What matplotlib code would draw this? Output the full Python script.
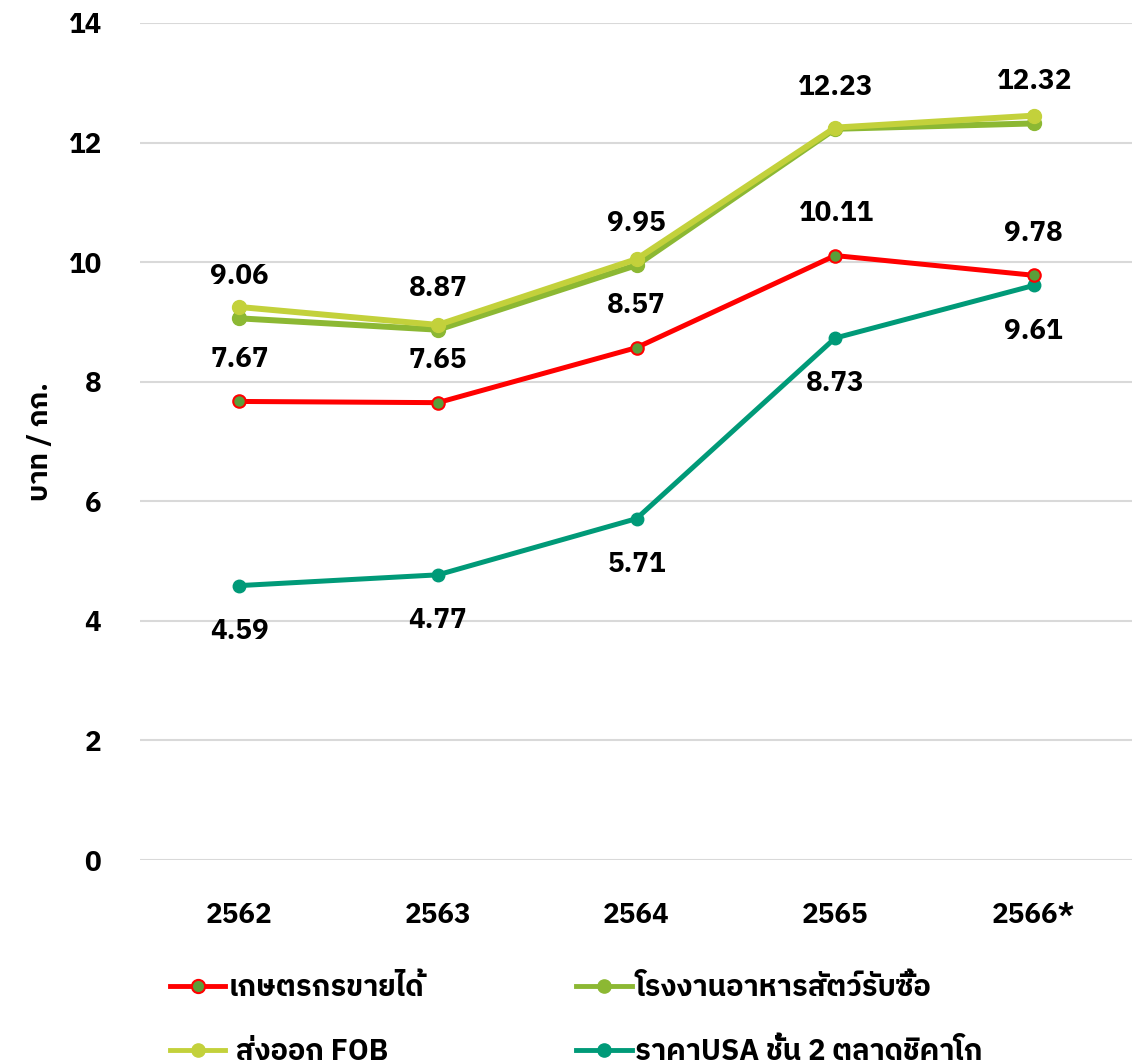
import matplotlib
matplotlib.use("Agg")
import matplotlib.pyplot as plt
from matplotlib.lines import Line2D

plt.rcParams['font.family'] = ['IBM Plex Sans Thai', 'DejaVu Sans']
plt.rcParams['font.weight'] = 'bold'

years = ["2562", "2563", "2564", "2565", "2566*"]
farmer = [7.67, 7.65, 8.57, 10.11, 9.78]
feedmill = [9.06, 8.87, 9.95, 12.23, 12.32]
fob = [9.25, 8.95, 10.05, 12.25, 12.45]
usa = [4.59, 4.77, 5.71, 8.73, 9.61]

names = ["เกษตรกรขายได้", "โรงงานอาหารสัตว์รับซื้อ", " ส่งออก FOB", "ราคาUSA ชั้น 2 ตลาดชิคาโก"]

fig = plt.figure(figsize=(11.32, 10.64), dpi=100)
ax = fig.add_axes([0.1237, 0.1917, 0.8772, 0.7867])

x = range(len(years))
l_usa, = ax.plot(x, usa, color="#009a78", lw=3.6, marker="o", ms=9, zorder=3)
l_farm, = ax.plot(x, farmer, color="#ff0000", lw=3.6, marker="o", ms=9,
                  mfc="#5a9e3a", mec="#ff0000", mew=1.5, zorder=4)
l_mill, = ax.plot(x, feedmill, color="#8cb833", lw=4.3, marker="o", ms=10, zorder=5)
l_fob, = ax.plot(x, fob, color="#c3d13b", lw=4.3, marker="o", ms=10, zorder=6)

lab = dict(ha="center", va="center", fontsize=20, fontweight="bold",
           textcoords="offset points")
for i, v in enumerate(farmer):
    ax.annotate(f"{v:.2f}", (i, v), xytext=(0, 30), **lab)
for i, v in enumerate(feedmill):
    ax.annotate(f"{v:.2f}", (i, v), xytext=(0, 30), **lab)
for i, v in enumerate(usa):
    ax.annotate(f"{v:.2f}", (i, v), xytext=(0, -33), **lab)

ax.set_xlim(-0.5, 4.5)
ax.set_ylim(0, 14)
ax.set_yticks(range(0, 15, 2))
ax.set_xticks(list(x))
ax.set_xticklabels(years)
ax.tick_params(length=0, labelsize=20)
ax.tick_params(axis="y", pad=28)
ax.tick_params(axis="x", pad=30)
for t in ax.get_xticklabels() + ax.get_yticklabels():
    t.set_fontweight("bold")
ax.grid(axis="y", color="#d9d9d9", lw=1.5)
ax.set_axisbelow(True)
for s in ax.spines.values():
    s.set_visible(False)

ax.set_ylabel("บาท / กก.", fontsize=20, fontweight="bold")
ax.yaxis.set_label_coords(-0.087, 0.5)


def handle(line):
    return Line2D([], [], color=line.get_color(), lw=3.5, marker="o", ms=9.5,
                  mfc=line.get_markerfacecolor(), mec=line.get_markeredgecolor(),
                  mew=line.get_markeredgewidth())


legend_kw = dict(loc="upper left", frameon=False, handlelength=1.9,
                 handletextpad=0.12, labelspacing=1.23, borderaxespad=0, borderpad=0,
                 prop={"size": 21, "weight": "bold"})
fig.legend([handle(l_farm), handle(l_fob)], [names[0], names[2]],
           bbox_to_anchor=(0.150, 0.0846), **legend_kw)
fig.legend([handle(l_mill), handle(l_usa)], [names[1], names[3]],
           bbox_to_anchor=(0.509, 0.0846), **legend_kw)

fig.savefig("out.png", dpi=100, facecolor="white")
